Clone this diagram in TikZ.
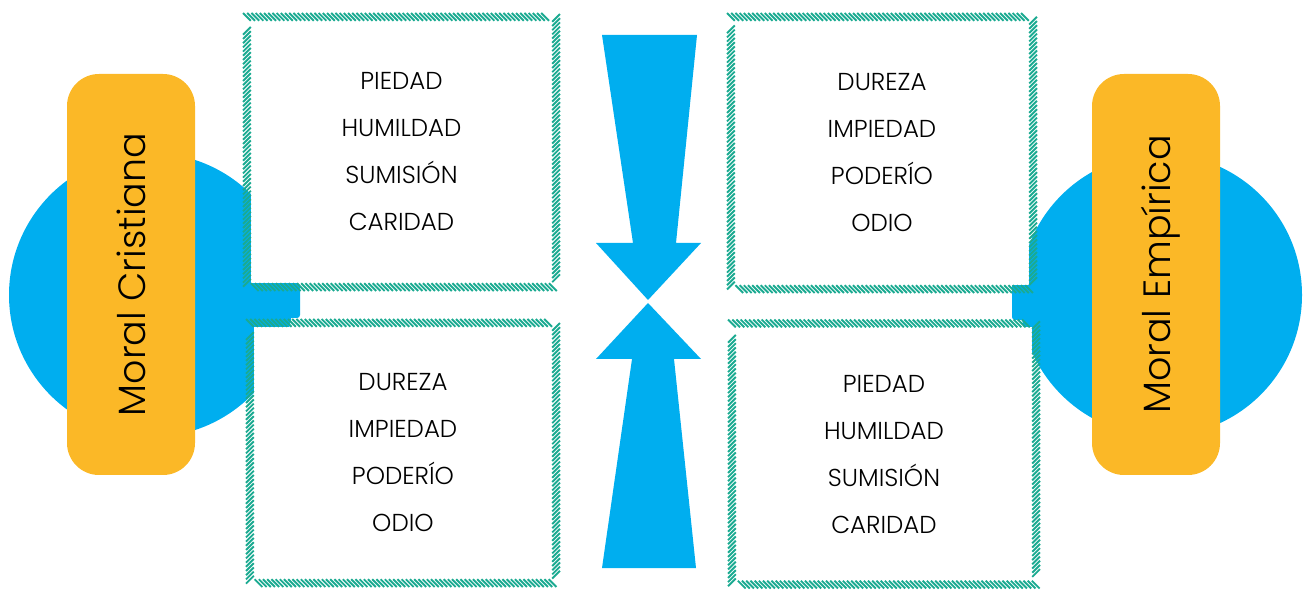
\documentclass[tikz,border=0pt]{standalone}
\usepackage{fontspec}
\setmainfont{Poppins}[UprightFont=* Light]
\usepackage{tikz}
\usetikzlibrary{decorations.pathreplacing}

\definecolor{skyblue}{HTML}{00AEEF}
\definecolor{amber}{HTML}{FBB827}
\definecolor{seagreen}{HTML}{1BAA91}

\begin{document}
\begin{tikzpicture}[
    x=1pt, y=1pt,
    disk/.style={fill=skyblue, draw=none},
    moral/.style={
        rectangle, fill=amber, rounded corners=32pt, rotate=90,
        minimum width=401pt, minimum height=128pt,
        font=\fontsize{38}{46}\selectfont, text depth=0pt
    },
    virtue/.style={
        rectangle, fill=white, inner sep=0pt, align=center,
        font=\fontsize{24.5}{47}\selectfont
    },
    hatch/.style={
        draw=seagreen, line width=1.9pt, decorate,
        decoration={border, angle=135, amplitude=11pt, segment length=4.2pt}
    },
    bigarrow/.style={fill=skyblue, draw=none},
]
\useasboundingbox (0,0) rectangle (1303,589);

% blue disks with their stubs
\fill[disk] (151,294) circle (142);
\fill[disk, rounded corners=3pt] (140,271) rectangle (300,306);
\fill[disk] (1161,294) circle (141);
\fill[disk, rounded corners=3pt] (1012,269) rectangle (1170,306);

% the two morals
\node[moral] (cristiana) at (131,314.5) {Moral Cristiana};
\node[moral] (empirica) at (1156,314.5) {Moral Empírica};

% virtue boxes
\node[virtue, minimum width=301pt, minimum height=262pt] (tl) at (401.5,437)
    {PIEDAD\\HUMILDAD\\SUMISIÓN\\CARIDAD};
\node[virtue, minimum width=298pt, minimum height=252pt] (bl) at (403,136)
    {DUREZA\\IMPIEDAD\\PODERÍO\\ODIO};
\node[virtue, minimum width=294pt, minimum height=264pt] (tr) at (882,436)
    {DUREZA\\IMPIEDAD\\PODERÍO\\ODIO};
\node[virtue, minimum width=296pt, minimum height=253pt] (br) at (884,135)
    {PIEDAD\\HUMILDAD\\SUMISIÓN\\CARIDAD};
\draw[hatch] (tl.north west) -- (tl.north east) -- (tl.south east) -- (tl.south west) -- cycle;
\draw[hatch] (bl.north west) -- (bl.north east) -- (bl.south east) -- (bl.south west) -- cycle;
\draw[hatch] (tr.north west) -- (tr.north east) -- (tr.south east) -- (tr.south west) -- cycle;
\draw[hatch] (br.north west) -- (br.north east) -- (br.south east) -- (br.south west) -- cycle;

% converging arrows
\fill[bigarrow] (602,554) -- (697,554) -- (676,346) -- (701,346) -- (648,289)
    -- (596,346) -- (633,346) -- cycle;
\fill[bigarrow] (602,21) -- (696,21) -- (674,230) -- (701,230) -- (648,286)
    -- (596,230) -- (632,230) -- cycle;
\end{tikzpicture}
\end{document}
